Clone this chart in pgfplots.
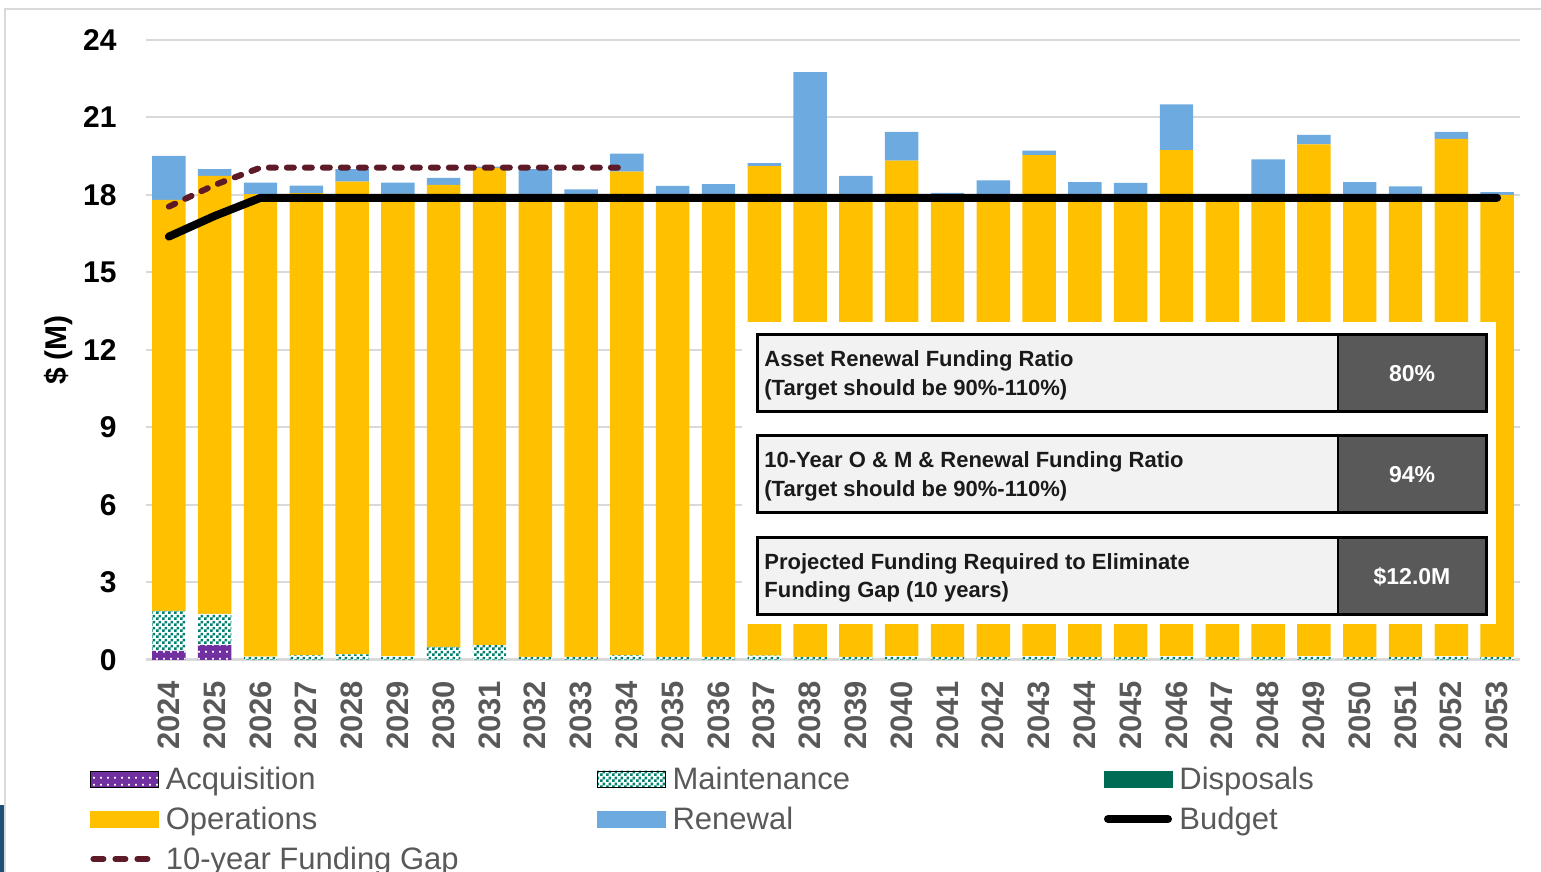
\documentclass[border=0pt]{standalone}
\usepackage{pgfplots}
\pgfplotsset{compat=1.18}
\usepackage{pgfplotstable}
\usepackage{fontspec}
\setmainfont{Liberation Sans}
\usetikzlibrary{patterns}
\definecolor{acq}{HTML}{7030A0}
\definecolor{maint}{HTML}{00806E}
\definecolor{disp}{HTML}{006B54}
\definecolor{ops}{HTML}{FFC000}
\definecolor{ren}{HTML}{6DAAE0}
\definecolor{gapc}{HTML}{5E1A26}
\definecolor{gridgray}{HTML}{D9D9D9}
\definecolor{tickgray}{HTML}{595959}
\definecolor{legtext}{HTML}{595959}
\definecolor{lightfill}{HTML}{F2F2F2}
\definecolor{darkfill}{HTML}{595959}
\definecolor{tabtext}{HTML}{1A1A1A}
\definecolor{edgeblue}{HTML}{1F4E79}
\pgfdeclarepatternformonly{finecheck}{\pgfqpoint{0pt}{0pt}}{\pgfqpoint{3pt}{3pt}}{\pgfqpoint{3pt}{3pt}}{%
  \pgfpathrectangle{\pgfqpoint{0pt}{0pt}}{\pgfqpoint{1.5pt}{1.5pt}}%
  \pgfpathrectangle{\pgfqpoint{1.5pt}{1.5pt}}{\pgfqpoint{1.5pt}{1.5pt}}%
  \pgfusepath{fill}}
\pgfdeclarepatternformonly{finedots}{\pgfqpoint{0pt}{0pt}}{\pgfqpoint{3.5pt}{3.5pt}}{\pgfqpoint{3.5pt}{3.5pt}}{%
  \pgfpathrectangle{\pgfqpoint{1.25pt}{1.25pt}}{\pgfqpoint{1pt}{1pt}}%
  \pgfusepath{fill}}

\pgfplotstableread{
year acq maint ops ren
2024 0.35 1.55 15.91 1.70
2025 0.58 1.21 16.95 0.26
2026 0 0.13 17.90 0.45
2027 0 0.18 17.89 0.29
2028 0 0.22 18.30 0.48
2029 0 0.15 17.89 0.44
2030 0 0.51 17.88 0.27
2031 0 0.58 18.47 0.05
2032 0 0.12 17.88 1.00
2033 0 0.12 17.88 0.22
2034 0 0.18 18.72 0.70
2035 0 0.12 17.88 0.35
2036 0 0.12 17.88 0.42
2037 0 0.17 18.95 0.11
2038 0 0.12 17.88 4.76
2039 0 0.12 17.88 0.74
2040 0 0.15 19.18 1.11
2041 0 0.12 17.88 0.08
2042 0 0.12 17.88 0.57
2043 0 0.15 19.39 0.18
2044 0 0.12 17.88 0.50
2045 0 0.12 17.88 0.47
2046 0 0.15 19.59 1.77
2047 0 0.12 17.88 0.00
2048 0 0.12 17.88 1.38
2049 0 0.15 19.81 0.37
2050 0 0.12 17.88 0.50
2051 0 0.12 17.88 0.33
2052 0 0.15 20.02 0.27
2053 0 0.12 17.88 0.11
}\data

\pgfplotstableread{
year budget
2024 16.39
2025 17.19
2026 17.89
2027 17.89
2028 17.89
2029 17.89
2030 17.89
2031 17.89
2032 17.89
2033 17.89
2034 17.89
2035 17.89
2036 17.89
2037 17.89
2038 17.89
2039 17.89
2040 17.89
2041 17.89
2042 17.89
2043 17.89
2044 17.89
2045 17.89
2046 17.89
2047 17.89
2048 17.89
2049 17.89
2050 17.89
2051 17.89
2052 17.89
2053 17.89
}\budget

\pgfplotstableread{
year gap
2024 17.55
2025 18.39
2026 19.06
2027 19.06
2028 19.06
2029 19.06
2030 19.06
2031 19.06
2032 19.06
2033 19.06
2034 19.06
}\gap

\begin{document}
\begin{tikzpicture}
\useasboundingbox (0,0) rectangle (770.5pt,436pt);
% chart frame
\begin{scope}[x=0.5pt,y=-0.5pt,shift={(0pt,436pt)}]
  \draw[gridgray,line width=1pt] (5,880) -- (5,9) -- (1560,9);
  \fill[edgeblue] (0,805) rectangle (4,880);
\end{scope}

\begin{axis}[
  at={(73pt,106pt)}, anchor=south west,
  scale only axis, width=687pt, height=310pt,
  ybar stacked, bar width=0.73,
  xmin=2023.5, xmax=2053.5, ymin=0, ymax=24,
  enlargelimits=false,
  axis line style={draw=none},
  major tick length=0pt,
  ytick={0,3,...,24},
  xtick={2024,...,2053},
  ymajorgrids,
  grid style={gridgray,line width=1pt},
  yticklabel style={font=\fontsize{15}{18}\selectfont\bfseries,
    /pgf/number format/assume math mode=true, inner sep=0pt},
  yticklabel shift=14.5pt,
  xticklabel style={rotate=90, anchor=east, inner sep=0pt,
    font=\fontsize{15.5}{18}\selectfont\bfseries, text=tickgray,
    /pgf/number format/assume math mode=true,
    /pgf/number format/1000 sep={}},
  xticklabel shift=10.3pt,
  ylabel={\$ (M)},
  ylabel style={at={(axis description cs:-0.064,0.5)}, anchor=center,
    font=\fontsize{15}{18}\selectfont\bfseries},
]
\addplot[fill=acq, draw=none, postaction={pattern=finedots, pattern color=white}] table[x=year,y=acq] {\data};
\addplot[fill=white, draw=none, postaction={pattern=finecheck, pattern color=maint}] table[x=year,y=maint] {\data};
\addplot[fill=ops, draw=none] table[x=year,y=ops] {\data};
\addplot[fill=ren, draw=none] table[x=year,y=ren] {\data};
\draw[gridgray,line width=1.5pt] (axis cs:2023.5,0) -- (axis cs:2053.5,0);
\end{axis}

% info table overlay
\begin{scope}[x=0.5pt,y=-0.5pt,shift={(0pt,436pt)}]
  \fill[white] (742,322) rectangle (1496,624);
  \foreach \t/\b in {335/412,436/513,538/615}{
    \fill[lightfill] (757,\t) rectangle (1338,\b);
    \fill[darkfill] (1338,\t) rectangle (1486,\b);
    \draw[black,line width=1.5pt] (757,\t) rectangle (1486,\b);
    \draw[black,line width=1pt] (1338,\t) -- (1338,\b);
  }
  \begin{scope}[every node/.style={anchor=base west, inner sep=0pt,
      font=\fontsize{11}{14}\selectfont\bfseries, text=tabtext}]
    \node at (764,367) {Asset Renewal Funding Ratio};
    \node at (764,396) {(Target should be 90\%-110\%)};
    \node at (764,468) {10-Year O \& M \& Renewal Funding Ratio};
    \node at (764,497) {(Target should be 90\%-110\%)};
    \node at (764,570) {Projected Funding Required to Eliminate};
    \node at (764,598) {Funding Gap (10 years)};
  \end{scope}
  \begin{scope}[every node/.style={anchor=center, inner sep=0pt,
      font=\fontsize{11.5}{14}\selectfont\bfseries, text=white}]
    \node at (1412,373.5) {80\%};
    \node at (1412,474.5) {94\%};
    \node at (1412,576.5) {\$12.0M};
  \end{scope}
\end{scope}

\begin{axis}[
  at={(73pt,106pt)}, anchor=south west,
  scale only axis, width=687pt, height=310pt,
  xmin=2023.5, xmax=2053.5, ymin=0, ymax=24,
  hide axis, clip=false,
  legend columns=3,
  legend cell align=left,
  legend style={at={(axis description cs:-0.04076,-0.17258)}, anchor=north west,
    draw=none, fill=none, inner sep=0pt, outer sep=0pt,
    font=\fontsize{15.5}{18}\selectfont,
    nodes={text=legtext, inner sep=0pt, text height=11.5pt, text depth=3.5pt},
    /tikz/every odd column/.append style={column sep=3.5pt},
    /tikz/row sep=5pt},
]
\addlegendimage{legend image code/.code={
  \fill[acq] (0pt,-2.5pt) rectangle (34pt,5.5pt);
  \fill[pattern=finedots, pattern color=white] (0pt,-2.5pt) rectangle (34pt,5.5pt);}}
\addlegendentry{\makebox[215.5pt][l]{Acquisition}}
\addlegendimage{legend image code/.code={
  \fill[white] (0pt,-2.5pt) rectangle (34pt,5.5pt);
  \fill[pattern=finecheck, pattern color=maint] (0pt,-2.5pt) rectangle (34pt,5.5pt);}}
\addlegendentry{\makebox[215.5pt][l]{Maintenance}}
\addlegendimage{legend image code/.code={
  \fill[disp] (0pt,-2.5pt) rectangle (34pt,5.5pt);}}
\addlegendentry{Disposals}
\addlegendimage{legend image code/.code={
  \fill[ops] (0pt,-2.5pt) rectangle (34pt,5.5pt);}}
\addlegendentry{\makebox[215.5pt][l]{Operations}}
\addlegendimage{legend image code/.code={
  \fill[ren] (0pt,-2.5pt) rectangle (34pt,5.5pt);}}
\addlegendentry{\makebox[215.5pt][l]{Renewal}}
\addplot[black, line width=4pt, line cap=round, line join=round,
  legend image code/.code={\draw[black,line width=4pt,line cap=round] (2pt,1.5pt) -- (32pt,1.5pt);}]
  table[x=year,y=budget] {\budget};
\addlegendentry{Budget}
\addplot[gapc, line width=3pt, line cap=round, line join=round, dash pattern=on 3.5pt off 5.5pt,
  legend image code/.code={\draw[gapc,line width=3pt,line cap=round,dash pattern=on 5pt off 6pt] (1.5pt,1.5pt) -- (32.5pt,1.5pt);}]
  table[x=year,y=gap] {\gap};
\addlegendentry{10-year Funding Gap}
\end{axis}
\end{tikzpicture}
\end{document}
